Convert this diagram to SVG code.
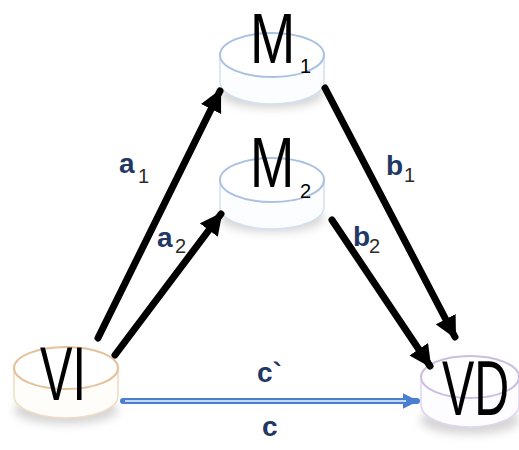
<svg xmlns="http://www.w3.org/2000/svg" width="519" height="450" viewBox="0 0 519 450">
<style>
.big{font-family:"Liberation Sans",Arial,sans-serif;fill:#000}
.lbl{font-family:"Liberation Sans",Arial,sans-serif;font-size:28px;font-weight:bold;fill:#1f3864}
.sub{font-family:"Liberation Sans",Arial,sans-serif;font-size:20px;fill:#2e2a26}
.arr{stroke:#000;stroke-width:7;fill:none;stroke-linecap:round}
</style>
<defs>
<filter id="blur" x="-50%" y="-50%" width="200%" height="200%"><feGaussianBlur stdDeviation="5"/></filter>
<marker id="ah" viewBox="0 0 10 10" refX="9" refY="5" markerWidth="3.2" markerHeight="3.2" orient="auto" markerUnits="strokeWidth"><path d="M0,0 L10,5 L0,10 z" fill="#000"/></marker>
<marker id="bh" viewBox="0 0 10 10" refX="9" refY="5" markerWidth="2.6" markerHeight="3" orient="auto" markerUnits="strokeWidth"><path d="M0,0 L10,5 L0,10 z" fill="#4a7fd0"/></marker>
</defs>
<rect width="519" height="450" fill="#fff"/>

<g id="M1">
<ellipse cx="272" cy="94" rx="52" ry="14" fill="#d4d4d4" filter="url(#blur)"/>
<path d="M220,55 L220,82 A52,22 0 0 0 324,82 L324,55" fill="#fbfdff" stroke="#d3e0f1" stroke-width="1.5"/>
<ellipse cx="272" cy="55" rx="52" ry="22" fill="#fff" stroke="#aac2e2" stroke-width="2"/>
<text class="big" font-size="70" transform="translate(250,63) scale(0.776,1)">M</text>
<text class="big" x="300" y="73" font-size="20">1</text>
</g>

<g id="M2">
<ellipse cx="272" cy="218" rx="52" ry="14" fill="#d4d4d4" filter="url(#blur)"/>
<path d="M220,180 L220,207 A52,22 0 0 0 324,207 L324,180" fill="#fbfdff" stroke="#d3e0f1" stroke-width="1.5"/>
<ellipse cx="272" cy="180" rx="52" ry="22" fill="#fff" stroke="#aac2e2" stroke-width="2"/>
<text class="big" font-size="70" transform="translate(250,187) scale(0.76,1)">M</text>
<text class="big" x="300" y="198" font-size="20">2</text>
</g>

<g id="VI">
<ellipse cx="66" cy="410" rx="52" ry="14" fill="#d4d4d4" filter="url(#blur)"/>
<path d="M14,368 L14,396 A52,22 0 0 0 118,396 L118,368" fill="#fffdfa" stroke="#f0dcc4" stroke-width="1.5"/>
<ellipse cx="66" cy="368" rx="52" ry="21" fill="#fff" stroke="#e3c29c" stroke-width="2"/>
<text class="big" font-size="76" transform="translate(40,400) scale(0.64,1)">VI</text>
</g>

<g id="VD">
<ellipse cx="470" cy="420" rx="50" ry="14" fill="#d4d4d4" filter="url(#blur)"/>
<path d="M421,377 L421,405 A49,22 0 0 0 519,405 L519,377" fill="#fdfcff" stroke="#e0d6ee" stroke-width="1.5"/>
<ellipse cx="470" cy="377" rx="49" ry="21" fill="#fff" stroke="#cbbfe0" stroke-width="2"/>
<text class="big" font-size="78" transform="translate(442,415) scale(0.62,1)">VD</text>
</g>

<g id="connectors">
<line class="arr" x1="98" y1="338" x2="220" y2="91" marker-end="url(#ah)"/>
<line class="arr" x1="115" y1="355" x2="221" y2="214" marker-end="url(#ah)"/>
<line class="arr" x1="325" y1="88" x2="455" y2="337" marker-end="url(#ah)"/>
<line class="arr" x1="332" y1="220" x2="430" y2="366" marker-end="url(#ah)"/>
<line x1="123" y1="401" x2="417" y2="401" stroke="#4a7fd0" stroke-width="6" stroke-linecap="round" marker-end="url(#bh)"/>
<line x1="125" y1="401" x2="406" y2="401" stroke="#c4d7f2" stroke-width="2"/>
<text class="lbl" x="119" y="173">a</text><text class="sub" x="138" y="183">1</text>
<text class="lbl" x="157" y="247">a</text><text class="sub" x="175" y="253">2</text>
<text class="lbl" x="386" y="175">b</text><text class="sub" x="404" y="182">1</text>
<text class="lbl" x="353" y="246">b</text><text class="sub" x="369" y="253">2</text>
<text class="lbl" x="257" y="382">c`</text>
<text class="lbl" x="262" y="436">c</text>
</g>
</svg>
